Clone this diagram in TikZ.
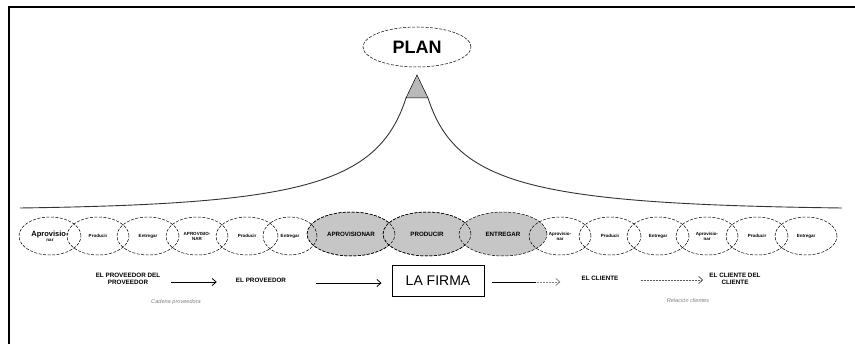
\documentclass[tikz,border=0pt]{standalone}
\usepackage{fontspec}
\setmainfont{Liberation Sans}
\usetikzlibrary{shapes.geometric,arrows.meta}
\begin{document}
\begin{tikzpicture}[x=1pt,y=-1pt,
  link/.style={ellipse,draw,dashed,dash pattern=on 3pt off 1.5pt,line width=0.5pt,
    minimum width=62,minimum height=38,inner sep=0pt,align=center,
    font=\fontsize{4.5}{5}\selectfont\bfseries},
  biglink/.style={link,fill=gray!45,minimum width=88,minimum height=44,
    font=\fontsize{6.2}{7}\selectfont\bfseries},
  lbl/.style={align=center,font=\fontsize{6.3}{6.8}\selectfont\bfseries,inner sep=1pt},
  note/.style={text=gray,font=\fontsize{5.6}{6}\selectfont\itshape},
  arr/.style={-{Straight Barb[length=4pt,width=7pt]},line width=0.8pt}
]
\useasboundingbox (0,0) rectangle (855,344);
\draw[line width=1.4pt] (9,344) -- (9,7) -- (855,7);

% plan and its triangle
\node[ellipse,draw,dashed,dash pattern=on 3pt off 1.5pt,line width=0.5pt,
  minimum width=108,minimum height=40,font=\fontsize{18}{20}\selectfont\bfseries] (plan) at (417,47) {PLAN};
\coordinate (apex) at (417,75);
\coordinate (bl) at (406,98);
\coordinate (br) at (428,98);
\filldraw[fill=gray!55,line width=0.5pt] (apex) -- (bl) -- (br) -- cycle;
\coordinate (lend) at (20,208);
\coordinate (rend) at (842,208);
\draw[line width=0.9pt,gray!40!black] (bl) .. controls (378,185) and (300,204) .. (lend);
\draw[line width=0.9pt,gray!40!black] (br) .. controls (456,185) and (534,204) .. (rend);

% central firm links
\node[biglink] (g1) at (351,234) {APROVISIONAR};
\node[biglink] (g2) at (427,234) {PRODUCIR};
\node[biglink] (g3) at (503,234) {ENTREGAR};
% redraw outlines of overlaps
\node[biglink,fill=none] at (351,234) {};
\node[biglink,fill=none] at (427,234) {};

% outer links
\node[link] (l1) at (50,236) {{\fontsize{7.5}{8}\selectfont Aprovisio-}\\nar};
\node[link] (l2) at (98,236) {Producir};
\node[link] (l3) at (148,236) {Entregar};
\node[link] (l4) at (197,236) {APROVISIO-\\NAR};
\node[link] (l5) at (247,236) {Producir};
\node[link,minimum width=54] (l6) at (290,236) {Entregar};
\node[link] (r1) at (560,236) {Aprovisio-\\nar};
\node[link] (r2) at (610,236) {Producir};
\node[link] (r3) at (658,236) {Entregar};
\node[link] (r4) at (707,236) {Aprovisio-\\nar};
\node[link] (r5) at (757,236) {Producir};
\node[link] (r6) at (806,236) {Entregar};

% actors
\node[lbl] (pp) at (128,279) {EL PROVEEDOR DEL\\PROVEEDOR};
\node[lbl] (pv) at (261,280) {EL PROVEEDOR};
\node[draw,line width=0.9pt,minimum width=92,minimum height=31,inner sep=0pt,
  font=\fontsize{14}{16}\selectfont] (firma) at (438,281) {LA FIRMA};
\node[lbl] (cl) at (600,278) {EL CLIENTE};
\node[lbl] (cc) at (735,279) {EL CLIENTE DEL\\CLIENTE};

\draw[arr,shorten <=10pt,shorten >=18pt] (pp.east |- 0,282) -- (pv.west |- 0,282);
\draw[arr,shorten <=29pt,shorten >=10pt] (pv.east |- 0,283) -- (firma.west |- 0,283);
\draw[arr,dashed,gray,dash pattern=on 2pt off 1pt,shorten <=8pt,shorten >=20pt] (firma.east |- 0,282) -- (cl.west |- 0,282);
\draw[line width=0.8pt,shorten <=8pt,shorten >=44pt] (firma.east |- 0,282) -- (cl.west |- 0,282);
\draw[arr,dashed,gray!70!black,dash pattern=on 2pt off 1pt,shorten <=21pt,shorten >=5pt] (cl.east |- 0,280) -- (cc.west |- 0,280);

\node[note] (n1) at (176,302) {Cadena proveedora};
\node[note] (n2) at (688,300) {Relación clientes};
\end{tikzpicture}
\end{document}
